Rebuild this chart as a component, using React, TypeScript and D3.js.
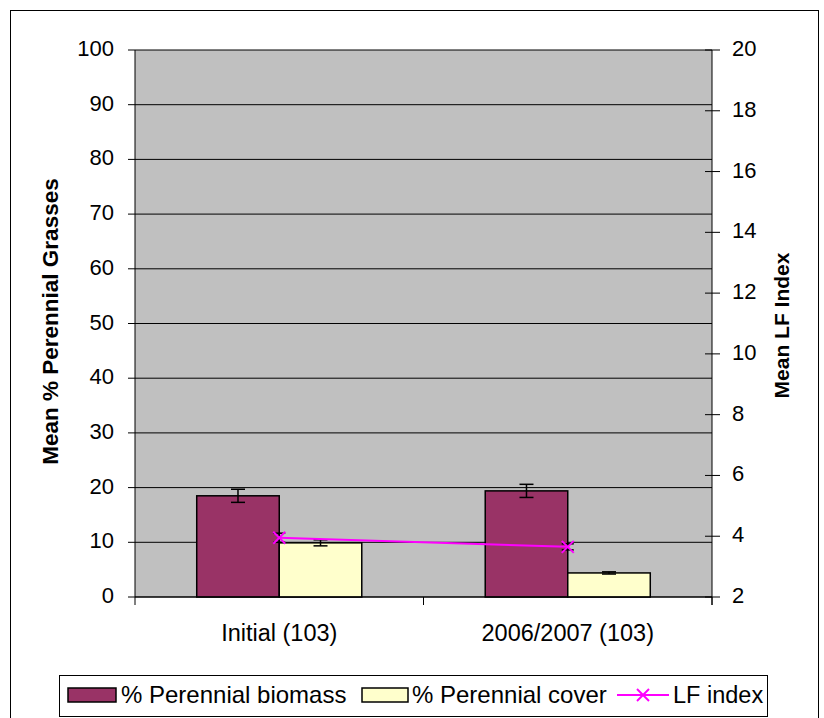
import React from "react";
import * as d3 from "d3";

const categories = ["Initial (103)", "2006/2007 (103)"];
const biomass = [18.5, 19.4];
const biomassErr = [1.2, 1.2];
const cover = [9.9, 4.4];
const coverErr = [0.55, 0.2];
const lfIndex = [3.95, 3.65];
const lfErr = [0.15, 0.1];
const leftTicks = [0, 10, 20, 30, 40, 50, 60, 70, 80, 90, 100];
const rightTicks = [2, 4, 6, 8, 10, 12, 14, 16, 18, 20];

const W = 824, H = 718;
const L = 135, R = 712, T = 50, B = 597;
const FONT = "Liberation Sans, Arial, sans-serif";

export default function App() {
  const x0 = d3.scaleBand<string>().domain(categories).range([L, R]).padding(0);
  const x1 = d3.scaleBand<string>().domain(["b", "c"]).range([0, x0.bandwidth()]).paddingInner(0).paddingOuter(0.748);
  const yL = d3.scaleLinear().domain([0, 100]).range([B, T]);
  const yR = d3.scaleLinear().domain([2, 20]).range([B, T]);
  const cx = (c: string) => (x0(c) as number) + x0.bandwidth() / 2;
  const line = d3.line<number>().x((_, i) => cx(categories[i])).y((d) => yR(d));
  const bw = x1.bandwidth();

  const errBar = (x: number, y1: number, y2: number, cap: number, key: string) => (
    <g key={key} stroke="#000" strokeWidth={1.5}>
      <line x1={x} x2={x} y1={y1} y2={y2} />
      <line x1={x - cap} x2={x + cap} y1={y1} y2={y1} />
      <line x1={x - cap} x2={x + cap} y1={y2} y2={y2} />
    </g>
  );
  const cross = (x: number, y: number, s: number, key: string) => (
    <g key={key} stroke="#FF00FF" strokeWidth={2}>
      <line x1={x - s} x2={x + s} y1={y - s} y2={y + s} />
      <line x1={x - s} x2={x + s} y1={y + s} y2={y - s} />
    </g>
  );

  return (
    <svg width={W} height={H} style={{ position: "absolute", left: 0, top: 0 }} fontFamily={FONT}>
      <rect x={0} y={0} width={W} height={H} fill="#fff" />
      <rect x={10.5} y={10.5} width={808} height={720} fill="none" stroke="#000" strokeWidth={1} />
      <rect x={L} y={T} width={R - L} height={B - T} fill="#C0C0C0" />
      {leftTicks.map((t) => (
        <line key={"g" + t} x1={L} x2={R} y1={yL(t)} y2={yL(t)} stroke="#000" strokeWidth={1} />
      ))}
      {categories.map((c, i) => {
        const xb = (x0(c) as number) + (x1("b") as number);
        const xc = (x0(c) as number) + (x1("c") as number);
        return (
          <g key={"bars" + i}>
            <rect x={xb} y={yL(biomass[i])} width={bw} height={yL(0) - yL(biomass[i])} fill="#993366" stroke="#000" strokeWidth={1.5} />
            <rect x={xc} y={yL(cover[i])} width={bw} height={yL(0) - yL(cover[i])} fill="#FFFFCC" stroke="#000" strokeWidth={1.5} />
            {errBar(xb + bw / 2, yL(biomass[i] + biomassErr[i]), yL(biomass[i] - biomassErr[i]), 7, "eb" + i)}
            {errBar(xc + bw / 2, yL(cover[i] + coverErr[i]), yL(cover[i] - coverErr[i]), 7, "ec" + i)}
          </g>
        );
      })}
      <line x1={L} x2={L} y1={T} y2={B} stroke="#000" strokeWidth={1} />
      <line x1={R} x2={R} y1={T} y2={B + 8} stroke="#000" strokeWidth={1} />
      <line x1={L} x2={R} y1={B} y2={B} stroke="#000" strokeWidth={1} />
      {leftTicks.map((t) => (
        <g key={"lt" + t}>
          <line x1={L - 7} x2={L} y1={yL(t)} y2={yL(t)} stroke="#000" />
          <text x={L - 21} y={yL(t) + 6} textAnchor="end" fontSize={22}>{t}</text>
        </g>
      ))}
      {rightTicks.map((t) => (
        <g key={"rt" + t}>
          <line x1={R - 7} x2={R + 8} y1={yR(t)} y2={yR(t)} stroke="#000" />
          <text x={R + 20} y={yR(t) + 6} textAnchor="start" fontSize={22}>{t}</text>
        </g>
      ))}
      {[L, L + x0.step(), R].map((xv, i) => (
        <line key={"ct" + i} x1={xv} x2={xv} y1={B} y2={B + 8} stroke="#000" />
      ))}
      {categories.map((c) => (
        <text key={"cl" + c} x={cx(c)} y={641} textAnchor="middle" fontSize={23.5}>{c}</text>
      ))}
      <text transform={`translate(58,${(T + B) / 2 - 2}) rotate(-90)`} textAnchor="middle" fontSize={22.5} fontWeight="bold">Mean % Perennial Grasses</text>
      <text transform={`translate(789,${(T + B) / 2 + 2}) rotate(-90)`} textAnchor="middle" fontSize={21} fontWeight="bold">Mean LF Index</text>
      <path d={line(lfIndex) as string} fill="none" stroke="#FF00FF" strokeWidth={2} />
      {categories.map((c, i) => errBar(cx(c), yR(lfIndex[i] + lfErr[i]), yR(lfIndex[i] - lfErr[i]), 6, "el" + i))}
      {categories.map((c, i) => cross(cx(c), yR(lfIndex[i]), 6, "m" + i))}
      <rect x={59.5} y={675.5} width={708} height={41} fill="#fff" stroke="#000" strokeWidth={1} />
      <rect x={68} y={688} width={48} height={14} fill="#993366" stroke="#000" strokeWidth={1.5} />
      <text x={121} y={703} fontSize={24}>% Perennial biomass</text>
      <rect x={362} y={688} width={46} height={14} fill="#FFFFCC" stroke="#000" strokeWidth={1.5} />
      <text x={412} y={703} fontSize={24}>% Perennial cover</text>
      <line x1={617} x2={669} y1={695} y2={695} stroke="#FF00FF" strokeWidth={2} />
      {cross(643, 695, 6, "lm")}
      <text x={673} y={703} fontSize={23.5}>LF index</text>
    </svg>
  );
}
